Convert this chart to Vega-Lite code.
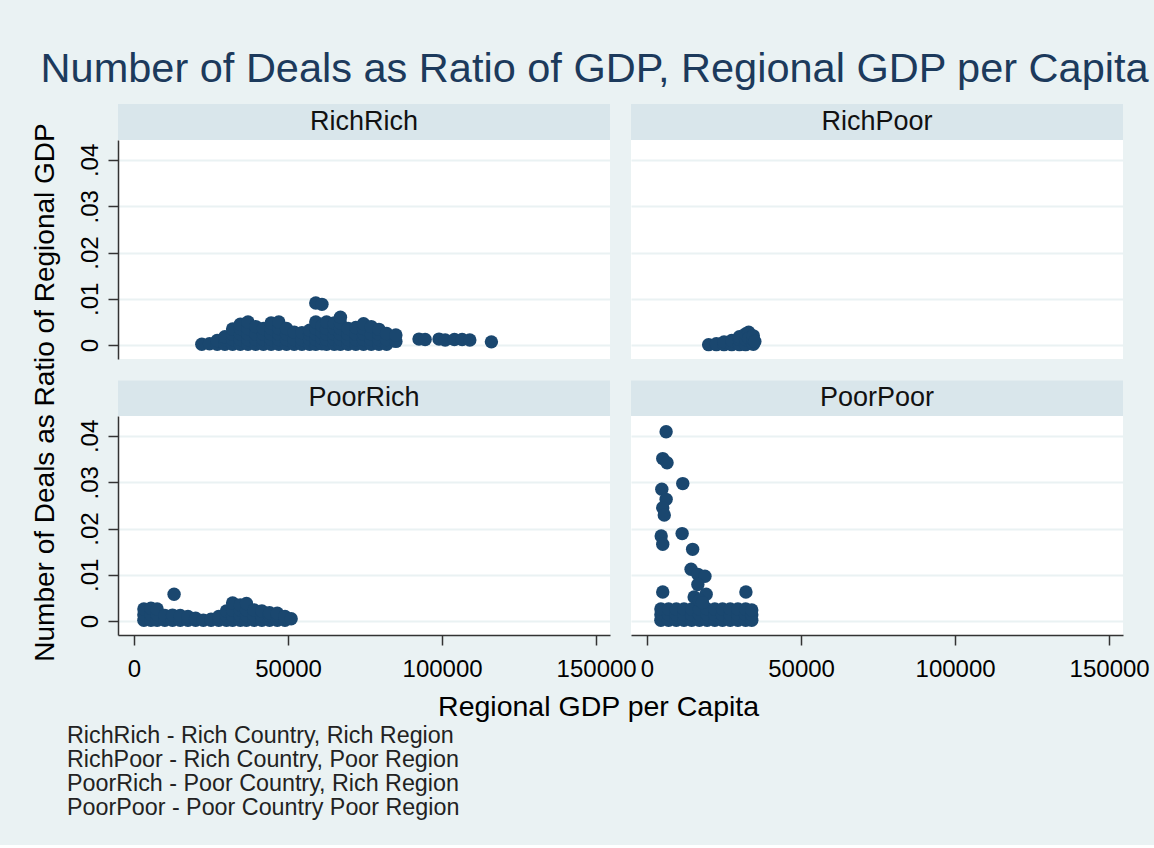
{
"$schema": "https://vega.github.io/schema/vega-lite/v6.json",
"background": "#eaf2f3",
"padding": {"left": 31, "top": 48, "right": 5, "bottom": 26},
"title": {"text": "Number of Deals as Ratio of GDP, Regional GDP per Capita", "fontSize": 41.5, "fontWeight": "normal", "color": "#1c3a5c", "font": "Liberation Sans", "anchor": "middle", "dx": 4, "offset": 14},
"datasets": {
"pts": [
{"panel":"RichRich","gdp":22000,"ratio":0.0002},
{"panel":"RichRich","gdp":24500,"ratio":0.0003},
{"panel":"RichRich","gdp":27000,"ratio":0.0002},{"panel":"RichRich","gdp":27000,"ratio":0.0010},
{"panel":"RichRich","gdp":29500,"ratio":0.0002},{"panel":"RichRich","gdp":29500,"ratio":0.0012},{"panel":"RichRich","gdp":29500,"ratio":0.0018},
{"panel":"RichRich","gdp":32000,"ratio":0.0002},{"panel":"RichRich","gdp":32000,"ratio":0.0012},{"panel":"RichRich","gdp":32000,"ratio":0.0024},{"panel":"RichRich","gdp":32000,"ratio":0.0035},
{"panel":"RichRich","gdp":34500,"ratio":0.0002},{"panel":"RichRich","gdp":34500,"ratio":0.0012},{"panel":"RichRich","gdp":34500,"ratio":0.0024},{"panel":"RichRich","gdp":34500,"ratio":0.0036},{"panel":"RichRich","gdp":34500,"ratio":0.0045},
{"panel":"RichRich","gdp":37000,"ratio":0.0002},{"panel":"RichRich","gdp":37000,"ratio":0.0012},{"panel":"RichRich","gdp":37000,"ratio":0.0024},{"panel":"RichRich","gdp":37000,"ratio":0.0036},{"panel":"RichRich","gdp":37000,"ratio":0.0050},
{"panel":"RichRich","gdp":39500,"ratio":0.0002},{"panel":"RichRich","gdp":39500,"ratio":0.0012},{"panel":"RichRich","gdp":39500,"ratio":0.0024},{"panel":"RichRich","gdp":39500,"ratio":0.0040},
{"panel":"RichRich","gdp":42000,"ratio":0.0002},{"panel":"RichRich","gdp":42000,"ratio":0.0012},{"panel":"RichRich","gdp":42000,"ratio":0.0024},{"panel":"RichRich","gdp":42000,"ratio":0.0036},
{"panel":"RichRich","gdp":44500,"ratio":0.0002},{"panel":"RichRich","gdp":44500,"ratio":0.0012},{"panel":"RichRich","gdp":44500,"ratio":0.0024},{"panel":"RichRich","gdp":44500,"ratio":0.0036},{"panel":"RichRich","gdp":44500,"ratio":0.0048},
{"panel":"RichRich","gdp":47000,"ratio":0.0002},{"panel":"RichRich","gdp":47000,"ratio":0.0012},{"panel":"RichRich","gdp":47000,"ratio":0.0024},{"panel":"RichRich","gdp":47000,"ratio":0.0036},{"panel":"RichRich","gdp":47000,"ratio":0.0050},
{"panel":"RichRich","gdp":49500,"ratio":0.0002},{"panel":"RichRich","gdp":49500,"ratio":0.0012},{"panel":"RichRich","gdp":49500,"ratio":0.0024},{"panel":"RichRich","gdp":49500,"ratio":0.0036},
{"panel":"RichRich","gdp":52000,"ratio":0.0002},{"panel":"RichRich","gdp":52000,"ratio":0.0012},{"panel":"RichRich","gdp":52000,"ratio":0.0028},
{"panel":"RichRich","gdp":54500,"ratio":0.0002},{"panel":"RichRich","gdp":54500,"ratio":0.0012},{"panel":"RichRich","gdp":54500,"ratio":0.0027},
{"panel":"RichRich","gdp":57000,"ratio":0.0002},{"panel":"RichRich","gdp":57000,"ratio":0.0012},{"panel":"RichRich","gdp":57000,"ratio":0.0024},{"panel":"RichRich","gdp":57000,"ratio":0.0032},
{"panel":"RichRich","gdp":59000,"ratio":0.0002},{"panel":"RichRich","gdp":59000,"ratio":0.0012},{"panel":"RichRich","gdp":59000,"ratio":0.0024},{"panel":"RichRich","gdp":59000,"ratio":0.0036},{"panel":"RichRich","gdp":59000,"ratio":0.0050},{"panel":"RichRich","gdp":59000,"ratio":0.0091},
{"panel":"RichRich","gdp":61000,"ratio":0.0003},{"panel":"RichRich","gdp":61000,"ratio":0.0014},{"panel":"RichRich","gdp":61000,"ratio":0.0028},{"panel":"RichRich","gdp":61000,"ratio":0.0042},{"panel":"RichRich","gdp":61000,"ratio":0.0088},
{"panel":"RichRich","gdp":62500,"ratio":0.0002},{"panel":"RichRich","gdp":62500,"ratio":0.0012},{"panel":"RichRich","gdp":62500,"ratio":0.0024},{"panel":"RichRich","gdp":62500,"ratio":0.0036},{"panel":"RichRich","gdp":62500,"ratio":0.0050},
{"panel":"RichRich","gdp":65000,"ratio":0.0002},{"panel":"RichRich","gdp":65000,"ratio":0.0012},{"panel":"RichRich","gdp":65000,"ratio":0.0024},{"panel":"RichRich","gdp":65000,"ratio":0.0036},{"panel":"RichRich","gdp":65000,"ratio":0.0048},
{"panel":"RichRich","gdp":67000,"ratio":0.0002},{"panel":"RichRich","gdp":67000,"ratio":0.0012},{"panel":"RichRich","gdp":67000,"ratio":0.0024},{"panel":"RichRich","gdp":67000,"ratio":0.0036},{"panel":"RichRich","gdp":67000,"ratio":0.0048},{"panel":"RichRich","gdp":67000,"ratio":0.0060},
{"panel":"RichRich","gdp":69500,"ratio":0.0002},{"panel":"RichRich","gdp":69500,"ratio":0.0012},{"panel":"RichRich","gdp":69500,"ratio":0.0024},{"panel":"RichRich","gdp":69500,"ratio":0.0036},
{"panel":"RichRich","gdp":72000,"ratio":0.0002},{"panel":"RichRich","gdp":72000,"ratio":0.0012},{"panel":"RichRich","gdp":72000,"ratio":0.0024},{"panel":"RichRich","gdp":72000,"ratio":0.0038},
{"panel":"RichRich","gdp":74500,"ratio":0.0002},{"panel":"RichRich","gdp":74500,"ratio":0.0012},{"panel":"RichRich","gdp":74500,"ratio":0.0024},{"panel":"RichRich","gdp":74500,"ratio":0.0036},{"panel":"RichRich","gdp":74500,"ratio":0.0046},
{"panel":"RichRich","gdp":77000,"ratio":0.0002},{"panel":"RichRich","gdp":77000,"ratio":0.0012},{"panel":"RichRich","gdp":77000,"ratio":0.0024},{"panel":"RichRich","gdp":77000,"ratio":0.0040},
{"panel":"RichRich","gdp":79500,"ratio":0.0002},{"panel":"RichRich","gdp":79500,"ratio":0.0012},{"panel":"RichRich","gdp":79500,"ratio":0.0024},{"panel":"RichRich","gdp":79500,"ratio":0.0034},
{"panel":"RichRich","gdp":82000,"ratio":0.0002},{"panel":"RichRich","gdp":82000,"ratio":0.0012},{"panel":"RichRich","gdp":82000,"ratio":0.0025},
{"panel":"RichRich","gdp":85000,"ratio":0.0008},{"panel":"RichRich","gdp":85000,"ratio":0.0022},
{"panel":"RichRich","gdp":92500,"ratio":0.0013},{"panel":"RichRich","gdp":94500,"ratio":0.0012},{"panel":"RichRich","gdp":99000,"ratio":0.0013},{"panel":"RichRich","gdp":101000,"ratio":0.0011},{"panel":"RichRich","gdp":104000,"ratio":0.0012},{"panel":"RichRich","gdp":106500,"ratio":0.0012},{"panel":"RichRich","gdp":109000,"ratio":0.0011},{"panel":"RichRich","gdp":116000,"ratio":0.0007},
{"panel":"RichPoor","gdp":20000,"ratio":0.0001},
{"panel":"RichPoor","gdp":22500,"ratio":0.0001},{"panel":"RichPoor","gdp":22500,"ratio":0.0003},
{"panel":"RichPoor","gdp":25000,"ratio":0.0001},{"panel":"RichPoor","gdp":25000,"ratio":0.0007},
{"panel":"RichPoor","gdp":27500,"ratio":0.0001},{"panel":"RichPoor","gdp":27500,"ratio":0.0010},
{"panel":"RichPoor","gdp":30000,"ratio":0.0001},{"panel":"RichPoor","gdp":30000,"ratio":0.0012},{"panel":"RichPoor","gdp":30000,"ratio":0.0018},
{"panel":"RichPoor","gdp":32000,"ratio":0.0001},{"panel":"RichPoor","gdp":32000,"ratio":0.0012},{"panel":"RichPoor","gdp":32000,"ratio":0.0024},
{"panel":"RichPoor","gdp":33000,"ratio":0.0028},{"panel":"RichPoor","gdp":33000,"ratio":0.0015},
{"panel":"RichPoor","gdp":34500,"ratio":0.0002},{"panel":"RichPoor","gdp":34500,"ratio":0.0012},{"panel":"RichPoor","gdp":34500,"ratio":0.0020},
{"panel":"RichPoor","gdp":35000,"ratio":0.0008},
{"panel":"PoorRich","gdp":3200,"ratio":0.0002},{"panel":"PoorRich","gdp":3200,"ratio":0.0014},{"panel":"PoorRich","gdp":3200,"ratio":0.0026},
{"panel":"PoorRich","gdp":5500,"ratio":0.0002},{"panel":"PoorRich","gdp":5500,"ratio":0.0014},{"panel":"PoorRich","gdp":5500,"ratio":0.0028},
{"panel":"PoorRich","gdp":7500,"ratio":0.0002},{"panel":"PoorRich","gdp":7500,"ratio":0.0014},{"panel":"PoorRich","gdp":7500,"ratio":0.0026},
{"panel":"PoorRich","gdp":10000,"ratio":0.0002},{"panel":"PoorRich","gdp":10000,"ratio":0.0012},
{"panel":"PoorRich","gdp":12500,"ratio":0.0002},{"panel":"PoorRich","gdp":12500,"ratio":0.0013},
{"panel":"PoorRich","gdp":13000,"ratio":0.0058},
{"panel":"PoorRich","gdp":15000,"ratio":0.0002},{"panel":"PoorRich","gdp":15000,"ratio":0.0012},
{"panel":"PoorRich","gdp":17500,"ratio":0.0002},{"panel":"PoorRich","gdp":17500,"ratio":0.0010},
{"panel":"PoorRich","gdp":20000,"ratio":0.0002},{"panel":"PoorRich","gdp":20000,"ratio":0.0006},
{"panel":"PoorRich","gdp":22500,"ratio":0.0002},
{"panel":"PoorRich","gdp":25000,"ratio":0.0002},{"panel":"PoorRich","gdp":25000,"ratio":0.0004},
{"panel":"PoorRich","gdp":27500,"ratio":0.0002},{"panel":"PoorRich","gdp":27500,"ratio":0.0010},
{"panel":"PoorRich","gdp":30000,"ratio":0.0002},{"panel":"PoorRich","gdp":30000,"ratio":0.0012},{"panel":"PoorRich","gdp":30000,"ratio":0.0022},
{"panel":"PoorRich","gdp":32000,"ratio":0.0002},{"panel":"PoorRich","gdp":32000,"ratio":0.0012},{"panel":"PoorRich","gdp":32000,"ratio":0.0024},{"panel":"PoorRich","gdp":32000,"ratio":0.0039},
{"panel":"PoorRich","gdp":34500,"ratio":0.0002},{"panel":"PoorRich","gdp":34500,"ratio":0.0012},{"panel":"PoorRich","gdp":34500,"ratio":0.0024},{"panel":"PoorRich","gdp":34500,"ratio":0.0035},
{"panel":"PoorRich","gdp":36500,"ratio":0.0002},{"panel":"PoorRich","gdp":36500,"ratio":0.0012},{"panel":"PoorRich","gdp":36500,"ratio":0.0024},{"panel":"PoorRich","gdp":36500,"ratio":0.0038},
{"panel":"PoorRich","gdp":39000,"ratio":0.0002},{"panel":"PoorRich","gdp":39000,"ratio":0.0012},{"panel":"PoorRich","gdp":39000,"ratio":0.0024},
{"panel":"PoorRich","gdp":41500,"ratio":0.0002},{"panel":"PoorRich","gdp":41500,"ratio":0.0012},{"panel":"PoorRich","gdp":41500,"ratio":0.0022},
{"panel":"PoorRich","gdp":44000,"ratio":0.0002},{"panel":"PoorRich","gdp":44000,"ratio":0.0012},{"panel":"PoorRich","gdp":44000,"ratio":0.0018},
{"panel":"PoorRich","gdp":46500,"ratio":0.0002},{"panel":"PoorRich","gdp":46500,"ratio":0.0012},{"panel":"PoorRich","gdp":46500,"ratio":0.0017},
{"panel":"PoorRich","gdp":49000,"ratio":0.0002},{"panel":"PoorRich","gdp":49000,"ratio":0.0010},
{"panel":"PoorRich","gdp":51000,"ratio":0.0005},
{"panel":"PoorPoor","gdp":4500,"ratio":0.0002},{"panel":"PoorPoor","gdp":4500,"ratio":0.0014},{"panel":"PoorPoor","gdp":4500,"ratio":0.0026},
{"panel":"PoorPoor","gdp":7000,"ratio":0.0002},{"panel":"PoorPoor","gdp":7000,"ratio":0.0014},{"panel":"PoorPoor","gdp":7000,"ratio":0.0026},
{"panel":"PoorPoor","gdp":9500,"ratio":0.0002},{"panel":"PoorPoor","gdp":9500,"ratio":0.0014},{"panel":"PoorPoor","gdp":9500,"ratio":0.0026},
{"panel":"PoorPoor","gdp":12000,"ratio":0.0002},{"panel":"PoorPoor","gdp":12000,"ratio":0.0014},{"panel":"PoorPoor","gdp":12000,"ratio":0.0026},
{"panel":"PoorPoor","gdp":14500,"ratio":0.0002},{"panel":"PoorPoor","gdp":14500,"ratio":0.0014},{"panel":"PoorPoor","gdp":14500,"ratio":0.0026},
{"panel":"PoorPoor","gdp":17000,"ratio":0.0002},{"panel":"PoorPoor","gdp":17000,"ratio":0.0014},{"panel":"PoorPoor","gdp":17000,"ratio":0.0026},
{"panel":"PoorPoor","gdp":19500,"ratio":0.0002},{"panel":"PoorPoor","gdp":19500,"ratio":0.0014},{"panel":"PoorPoor","gdp":19500,"ratio":0.0026},
{"panel":"PoorPoor","gdp":22000,"ratio":0.0002},{"panel":"PoorPoor","gdp":22000,"ratio":0.0014},{"panel":"PoorPoor","gdp":22000,"ratio":0.0026},
{"panel":"PoorPoor","gdp":24500,"ratio":0.0002},{"panel":"PoorPoor","gdp":24500,"ratio":0.0014},{"panel":"PoorPoor","gdp":24500,"ratio":0.0026},
{"panel":"PoorPoor","gdp":27000,"ratio":0.0002},{"panel":"PoorPoor","gdp":27000,"ratio":0.0014},{"panel":"PoorPoor","gdp":27000,"ratio":0.0026},
{"panel":"PoorPoor","gdp":29500,"ratio":0.0002},{"panel":"PoorPoor","gdp":29500,"ratio":0.0014},{"panel":"PoorPoor","gdp":29500,"ratio":0.0026},
{"panel":"PoorPoor","gdp":32000,"ratio":0.0002},{"panel":"PoorPoor","gdp":32000,"ratio":0.0014},{"panel":"PoorPoor","gdp":32000,"ratio":0.0026},
{"panel":"PoorPoor","gdp":34000,"ratio":0.0002},{"panel":"PoorPoor","gdp":34000,"ratio":0.0014},{"panel":"PoorPoor","gdp":34000,"ratio":0.0024},
{"panel":"PoorPoor","gdp":6200,"ratio":0.0409},{"panel":"PoorPoor","gdp":5100,"ratio":0.0351},{"panel":"PoorPoor","gdp":6500,"ratio":0.0342},{"panel":"PoorPoor","gdp":11600,"ratio":0.0297},
{"panel":"PoorPoor","gdp":4800,"ratio":0.0285},{"panel":"PoorPoor","gdp":6200,"ratio":0.0263},{"panel":"PoorPoor","gdp":5100,"ratio":0.0245},{"panel":"PoorPoor","gdp":5600,"ratio":0.0229},
{"panel":"PoorPoor","gdp":4600,"ratio":0.0184},{"panel":"PoorPoor","gdp":5100,"ratio":0.0166},{"panel":"PoorPoor","gdp":11400,"ratio":0.0189},{"panel":"PoorPoor","gdp":14800,"ratio":0.0155},
{"panel":"PoorPoor","gdp":14300,"ratio":0.0112},{"panel":"PoorPoor","gdp":16500,"ratio":0.0101},{"panel":"PoorPoor","gdp":18800,"ratio":0.0097},{"panel":"PoorPoor","gdp":16500,"ratio":0.0079},
{"panel":"PoorPoor","gdp":19200,"ratio":0.0058},{"panel":"PoorPoor","gdp":5100,"ratio":0.0063},{"panel":"PoorPoor","gdp":32100,"ratio":0.0063},{"panel":"PoorPoor","gdp":15300,"ratio":0.0052},
{"panel":"PoorPoor","gdp":17000,"ratio":0.0045},{"panel":"PoorPoor","gdp":18000,"ratio":0.0040}
]
},
"config": {
  "font": "Liberation Sans",
  "view": {"stroke": null},
  "axis": {"domainColor": "#333333", "tickColor": "#333333", "labelColor": "#000000", "labelFont": "Liberation Sans", "labelFontSize": 24, "gridColor": "#eaf2f3", "gridWidth": 2, "tickSize": 10, "domainWidth": 1.5, "tickWidth": 1.5},
  "title": {"font": "Liberation Sans", "fontWeight": "normal"}
},
"vconcat": [
{
  "title": {"text": ["RichRich - Rich Country, Rich Region", "RichPoor - Rich Country, Poor Region", "PoorRich - Poor Country, Rich Region", "PoorPoor - Poor Country Poor Region"], "orient": "bottom", "anchor": "start", "fontSize": 23.3, "lineHeight": 24, "color": "#222222", "dx": 35, "offset": 3},
  "vconcat": [
  {
    "title": {"text": "Regional GDP per Capita", "orient": "bottom", "anchor": "middle", "fontSize": 28.5, "color": "#000000", "dx": 8, "offset": 12},
    "vconcat": [
    {
      "title": {"text": "Number of Deals as Ratio of Regional GDP", "orient": "left", "anchor": "middle", "fontSize": 28, "color": "#000000", "offset": 18},
      "columns": 2,
      "bounds": "flush",
      "spacing": {"row": 0, "column": 21},
      "concat": [
        {"width": 492, "height": 36, "view": {"fill": "#d9e6eb", "stroke": null}, "data": {"values": [{"label": "RichRich"}]}, "mark": {"type": "text", "fontSize": 27, "color": "#111111", "font": "Liberation Sans"}, "encoding": {"text": {"field": "label"}}},
        {"width": 492, "height": 36, "view": {"fill": "#d9e6eb", "stroke": null}, "data": {"values": [{"label": "RichPoor"}]}, "mark": {"type": "text", "fontSize": 27, "color": "#111111", "font": "Liberation Sans"}, "encoding": {"text": {"field": "label"}}},
        {"width": 492, "height": 219, "view": {"fill": "white", "stroke": null}, "data": {"name": "pts"}, "transform": [{"filter": "datum.panel === 'RichRich'"}],
         "mark": {"type": "point", "filled": true, "size": 180, "color": "#1a476f", "opacity": 1},
         "encoding": {
           "x": {"field": "gdp", "type": "quantitative", "scale": {"domain": [-5200, 154500], "nice": false, "zero": false}, "axis": null},
           "y": {"field": "ratio", "type": "quantitative", "scale": {"domain": [-0.003, 0.0443], "nice": false, "zero": false}, "axis": {"values": [0, 0.01, 0.02, 0.03, 0.04], "labelAngle": 270, "labelExpr": "datum.value == 0 ? '0' : replace(format(datum.value, '.2f'), '0.', '.')", "title": null, "grid": true, "labelPadding": 6}}
         }},
        {"width": 492, "height": 219, "view": {"fill": "white", "stroke": null}, "data": {"name": "pts"}, "transform": [{"filter": "datum.panel === 'RichPoor'"}],
         "mark": {"type": "point", "filled": true, "size": 180, "color": "#1a476f", "opacity": 1},
         "encoding": {
           "x": {"field": "gdp", "type": "quantitative", "scale": {"domain": [-5200, 154500], "nice": false, "zero": false}, "axis": null},
           "y": {"field": "ratio", "type": "quantitative", "scale": {"domain": [-0.003, 0.0443], "nice": false, "zero": false}, "axis": {"values": [0, 0.01, 0.02, 0.03, 0.04], "labels": false, "ticks": false, "domain": false, "title": null, "grid": true}}
         }},
        {"width": 492, "height": 57, "data": {"values": [{"label": "PoorRich"}]},
         "encoding": {"y": {"field": "label", "type": "nominal", "axis": null, "scale": {"paddingInner": 0, "paddingOuter": 0.3, "align": 1}}},
         "layer": [
           {"mark": {"type": "bar", "color": "#d9e6eb"}},
           {"mark": {"type": "text", "fontSize": 27, "color": "#111111", "font": "Liberation Sans"}, "encoding": {"text": {"field": "label"}}}
         ]},
        {"width": 492, "height": 57, "data": {"values": [{"label": "PoorPoor"}]},
         "encoding": {"y": {"field": "label", "type": "nominal", "axis": null, "scale": {"paddingInner": 0, "paddingOuter": 0.3, "align": 1}}},
         "layer": [
           {"mark": {"type": "bar", "color": "#d9e6eb"}},
           {"mark": {"type": "text", "fontSize": 27, "color": "#111111", "font": "Liberation Sans"}, "encoding": {"text": {"field": "label"}}}
         ]},
        {"width": 492, "height": 219, "view": {"fill": "white", "stroke": null}, "data": {"name": "pts"}, "transform": [{"filter": "datum.panel === 'PoorRich'"}],
         "mark": {"type": "point", "filled": true, "size": 180, "color": "#1a476f", "opacity": 1},
         "encoding": {
           "x": {"field": "gdp", "type": "quantitative", "scale": {"domain": [-5200, 154500], "nice": false, "zero": false}, "axis": {"values": [0, 50000, 100000, 150000], "format": "d", "title": null, "grid": false, "labelPadding": 12, "labelFlush": false, "labelOverlap": false}},
           "y": {"field": "ratio", "type": "quantitative", "scale": {"domain": [-0.003, 0.0443], "nice": false, "zero": false}, "axis": {"values": [0, 0.01, 0.02, 0.03, 0.04], "labelAngle": 270, "labelExpr": "datum.value == 0 ? '0' : replace(format(datum.value, '.2f'), '0.', '.')", "title": null, "grid": true, "labelPadding": 6}}
         }},
        {"width": 492, "height": 219, "view": {"fill": "white", "stroke": null}, "data": {"name": "pts"}, "transform": [{"filter": "datum.panel === 'PoorPoor'"}],
         "mark": {"type": "point", "filled": true, "size": 180, "color": "#1a476f", "opacity": 1},
         "encoding": {
           "x": {"field": "gdp", "type": "quantitative", "scale": {"domain": [-5200, 154500], "nice": false, "zero": false}, "axis": {"values": [0, 50000, 100000, 150000], "format": "d", "title": null, "grid": false, "labelPadding": 12, "labelFlush": false, "labelOverlap": false}},
           "y": {"field": "ratio", "type": "quantitative", "scale": {"domain": [-0.003, 0.0443], "nice": false, "zero": false}, "axis": {"values": [0, 0.01, 0.02, 0.03, 0.04], "labels": false, "ticks": false, "domain": false, "title": null, "grid": true}}
         }}
      ]
    }
    ]
  }
  ]
}
]
}
